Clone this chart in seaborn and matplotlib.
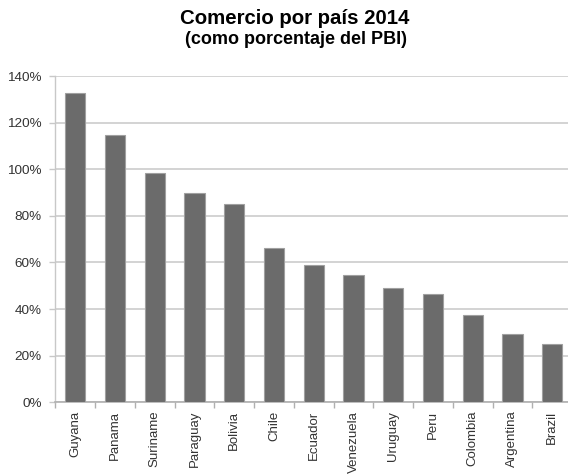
import matplotlib
matplotlib.use("Agg")
import matplotlib.pyplot as plt
from matplotlib.ticker import PercentFormatter
import seaborn as sns
import pandas as pd

# Trade as a share of GDP, 2014
paises = ["Guyana", "Panama", "Suriname", "Paraguay", "Bolivia", "Chile", "Ecuador",
          "Venezuela", "Uruguay", "Peru", "Colombia", "Argentina", "Brazil"]
comercio_pct = [132.5, 114.5, 98.2, 89.9, 85.0, 66.1, 58.8, 54.5, 49.2, 46.4, 37.5, 29.3, 24.9]
y_ticks = [0, 20, 40, 60, 80, 100, 120, 140]

df = pd.DataFrame({"pais": paises, "comercio": comercio_pct})

sns.set_theme(style="white")
plt.rcParams["font.family"] = ["Liberation Sans", "DejaVu Sans"]

fig = plt.figure(figsize=(5.68, 4.76), dpi=100)
ax = fig.add_axes([0.0977, 0.1548, 0.9093, 0.6855])

sns.barplot(data=df, x="pais", y="comercio", color="#6b6b6b", width=0.51,
            edgecolor="#a0a0a0", linewidth=0.8, saturation=1, ax=ax, zorder=3)

ax.set_ylim(0, 140)
ax.set_xlim(-0.5, len(paises) - 0.5)
ax.set_yticks(y_ticks)
ax.yaxis.set_major_formatter(PercentFormatter(decimals=0))
ax.yaxis.grid(True, color="#d0d0d0", linewidth=1.3, zorder=0)
ax.set_axisbelow(True)

for side in ["top", "right"]:
    ax.spines[side].set_visible(False)
ax.spines["left"].set_color("#c8c8c8")
ax.spines["bottom"].set_color("#b0b0b0")
ax.spines["left"].set_linewidth(1.0)
ax.spines["bottom"].set_linewidth(1.2)

# tick marks on the x axis sit between categories
ax.set_xticks(range(len(paises)))
ax.set_xticklabels(paises, rotation=90, fontsize=9.5, color="#333333")
ax.set_xticks([i - 0.5 for i in range(len(paises) + 1)], minor=True)
ax.tick_params(axis="x", which="major", length=0, pad=6)
ax.tick_params(axis="x", which="minor", length=4, color="#b0b0b0", width=1, direction="out", bottom=True)
ax.tick_params(axis="y", length=4, color="#c8c8c8", width=1, direction="out", left=True,
               labelsize=9.7, labelcolor="#333333", pad=6)
ax.set_xlabel("")
ax.set_ylabel("")

fig.text(295 / 568, 1 - 18 / 476, "Comercio por país 2014", ha="center", va="center",
         fontsize=14.7, fontweight="bold", color="black")
fig.text(296 / 568, 1 - 39.5 / 476, "(como porcentaje del PBI)", ha="center", va="center",
         fontsize=13, fontweight="bold", color="black")

fig.savefig("out.png", dpi=100, facecolor="white")
